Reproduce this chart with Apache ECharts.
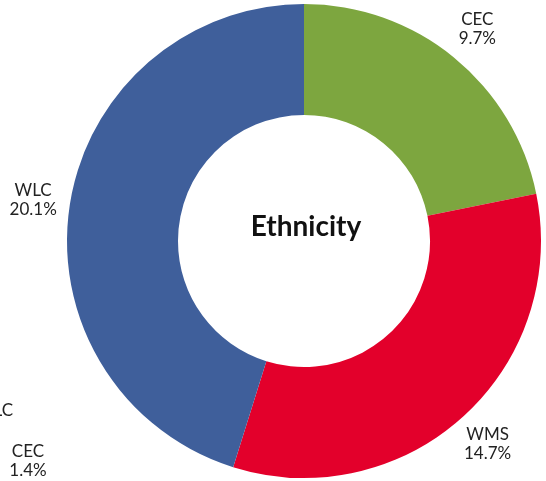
<!DOCTYPE html>
<html>
<head>
<meta charset="utf-8">
<script src="https://cdn.jsdelivr.net/npm/echarts@6/dist/echarts.min.js"></script>
<style>
html,body{margin:0;padding:0;background:#fff;}
#c{width:546px;height:481px;}
</style>
</head>
<body>
<div id="c"></div>
<script>
var categories = ['CEC', 'WMS', 'WLC'];
var values = [9.7, 14.7, 20.1];
var colors = ['#7da63f', '#e3002b', '#3f5f9b'];
var centerTitle = 'Ethnicity';
var strayLabels = [['WLC', ''], ['CEC', '1.4%']];

var data = categories.map(function (c, i) {
  return { name: c, value: values[i], itemStyle: { color: colors[i] } };
});
var labelData = categories.map(function (c, i) {
  return { name: c, value: values[i] };
});

var chart = echarts.init(document.getElementById('c'));
chart.setOption({
  animation: false,
  backgroundColor: '#fff',
  series: [
    {
      type: 'pie',
      center: [304, 241],
      radius: [126, 237],
      startAngle: 90,
      clockwise: true,
      silent: true,
      label: { show: false },
      labelLine: { show: false },
      itemStyle: { borderWidth: 0 },
      data: data
    },
    {
      type: 'pie',
      center: [304, 241],
      radius: [250, 292],
      startAngle: 90,
      clockwise: true,
      silent: true,
      itemStyle: { color: 'rgba(0,0,0,0)', borderWidth: 0 },
      label: {
        show: true,
        position: 'inside',
        formatter: function (p) { return p.name + '\n' + p.value.toFixed(1) + '%'; },
        fontFamily: 'Lato',
        fontSize: 17,
        lineHeight: 19,
        color: '#222'
      },
      labelLine: { show: false },
      data: labelData
    }
  ],
  graphic: [
    {
      type: 'text',
      x: 306,
      y: 227,
      style: {
        text: centerTitle,
        font: 'bold 28px Lato',
        fill: '#111',
        align: 'center',
        verticalAlign: 'middle'
      }
    },
    {
      type: 'text',
      x: 13,
      y: 411,
      style: {
        text: strayLabels[0][0],
        font: '17px Lato',
        fill: '#222',
        align: 'right',
        verticalAlign: 'middle'
      }
    },
    {
      type: 'text',
      x: 28,
      y: 461,
      style: {
        text: strayLabels[1][0] + '\n' + strayLabels[1][1],
        font: '17px Lato',
        lineHeight: 19,
        fill: '#222',
        align: 'center',
        verticalAlign: 'middle'
      }
    }
  ]
});
</script>
</body>
</html>
